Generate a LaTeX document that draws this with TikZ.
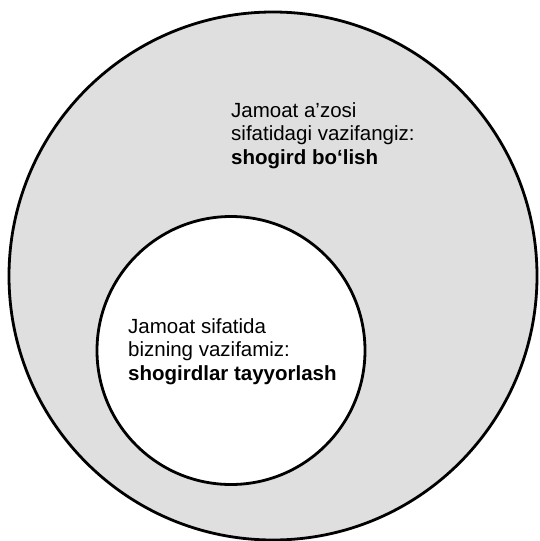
\documentclass[tikz,border=0pt]{standalone}
\usepackage{fontspec}
\setmainfont{Liberation Sans}
\usepackage{tikz}
\definecolor{ringgray}{HTML}{DFDFDF}
\tikzset{ring/.style={circle,draw=black,line width=2.8pt,inner sep=0pt},label/.style={anchor=north west,inner sep=0pt,align=left,font=\fontsize{20.5}{23.5}\selectfont}}
\begin{document}
\begin{tikzpicture}[x=1pt,y=-1pt]
\useasboundingbox (0,0) rectangle (540,541);
\node[ring,fill=ringgray,minimum size=528] (outer) at (273,276) {};
\node[ring,fill=white,minimum size=268] (inner) at (231,350.5) {};
\node[label] (duty) at (231,102) {Jamoat a’zosi\\sifatidagi vazifangiz:\\\textbf{shogird bo‘lish}};
\node[label] (task) at (128,318) {Jamoat sifatida\\bizning vazifamiz:\\\textbf{shogirdlar tayyorlash}};
\end{tikzpicture}
\end{document}
